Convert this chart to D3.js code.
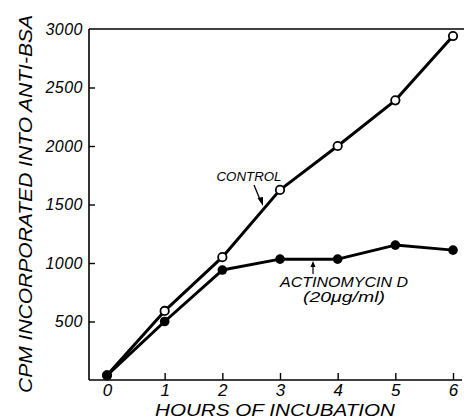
<!DOCTYPE html>
<html><head><meta charset="utf-8">
<script src="https://cdn.jsdelivr.net/npm/d3@7"></script>
<style>
body{margin:0;background:#fff;}
svg text{font-family:"Liberation Sans",Arial,sans-serif;font-style:italic;fill:#000;}
</style></head>
<body><svg id="c" width="464" height="420"></svg>
<script>
const hours = [0, 1, 2, 3, 4, 5, 6];
const control = [40, 590, 1050, 1625, 2000, 2390, 2940];
const actinomycin = [40, 500, 940, 1033, 1033, 1153, 1110];
const yTicks = [500, 1000, 1500, 2000, 2500, 3000];
const xTicks = [0, 1, 2, 3, 4, 5, 6];

const svg = d3.select("#c");
const padL = 89, padT = 29, padB = 380, padR = 464;
const x = d3.scaleLinear().domain([0, 6]).range([107, 453]);
const y = d3.scaleLinear().domain([0, 3000]).range([padB, padT]);

// frame lines
svg.append("line").attr("x1", padL).attr("x2", padL).attr("y1", padT).attr("y2", padB)
  .attr("stroke", "#000").attr("stroke-width", 1.6);
svg.append("line").attr("x1", padL).attr("x2", padR - 2).attr("y1", padB).attr("y2", padB)
  .attr("stroke", "#000").attr("stroke-width", 1.6);
svg.append("line").attr("x1", padL).attr("x2", padR).attr("y1", padT).attr("y2", padT)
  .attr("stroke", "#000").attr("stroke-width", 1.4);

// y axis
const ya = svg.append("g").attr("transform", `translate(${padL},0)`)
  .call(d3.axisLeft(y).tickValues(yTicks).tickSize(-6).tickPadding(12).tickFormat(d3.format("d")));
ya.select(".domain").remove();
ya.selectAll(".tick line").attr("stroke-width", 1.4).filter(d => d === 3000).remove();
ya.selectAll(".tick text").attr("font-size", 16).attr("x", -6).attr("letter-spacing", 0.5)
  .attr("font-family", "Liberation Sans").attr("font-style", "italic");

// x axis
const xa = svg.append("g").attr("transform", `translate(0,${padB})`)
  .call(d3.axisBottom(x).tickValues(xTicks).tickSize(-7).tickPadding(4).tickFormat(d3.format("d")));
xa.select(".domain").remove();
xa.selectAll(".tick line").attr("stroke-width", 1.4).filter(d => d === 0).remove();
xa.selectAll(".tick text").attr("font-size", 17).attr("dy", "0.9em").attr("y", 1)
  .attr("font-family", "Liberation Sans").attr("font-style", "italic");

// axis titles
svg.append("text").attr("x", 275).attr("y", 416).attr("text-anchor", "middle")
  .attr("font-size", 16).attr("textLength", 240).attr("lengthAdjust", "spacingAndGlyphs")
  .text("HOURS OF INCUBATION");
svg.append("text").attr("transform", "translate(32,204) rotate(-90)").attr("text-anchor", "middle")
  .attr("font-size", 18).attr("textLength", 378).attr("lengthAdjust", "spacingAndGlyphs")
  .text("CPM INCORPORATED INTO ANTI-BSA");

// lines
const line = d3.line().x((d, i) => x(hours[i])).y(d => y(d));
svg.append("path").datum(control).attr("d", line).attr("fill", "none")
  .attr("stroke", "#000").attr("stroke-width", 3).attr("stroke-linejoin", "round");
svg.append("path").datum(actinomycin).attr("d", line).attr("fill", "none")
  .attr("stroke", "#000").attr("stroke-width", 3).attr("stroke-linejoin", "round");

svg.selectAll("circle.ctrl").data(control).enter().append("circle").attr("class", "ctrl")
  .attr("cx", (d, i) => x(hours[i])).attr("cy", d => y(d)).attr("r", 4.2)
  .attr("fill", "#fff").attr("stroke", "#000").attr("stroke-width", 1.8);
svg.selectAll("circle.act").data(actinomycin).enter().append("circle").attr("class", "act")
  .attr("cx", (d, i) => x(hours[i])).attr("cy", d => y(d)).attr("r", 4.8)
  .attr("fill", "#000");

// annotations
svg.append("text").attr("x", 249).attr("y", 181).attr("text-anchor", "middle")
  .attr("font-size", 13).attr("textLength", 65).attr("lengthAdjust", "spacingAndGlyphs").text("CONTROL");
svg.append("line").attr("x1", 254).attr("y1", 185).attr("x2", 261).attr("y2", 202)
  .attr("stroke", "#000").attr("stroke-width", 1.3);
svg.append("path").attr("d", "M263,206 L257.5,198 L263,197 Z").attr("fill", "#000");

svg.append("text").attr("x", 344).attr("y", 287).attr("text-anchor", "middle")
  .attr("font-size", 14).attr("textLength", 128).attr("lengthAdjust", "spacingAndGlyphs").text("ACTINOMYCIN  D");
svg.append("text").attr("x", 344).attr("y", 302).attr("text-anchor", "middle")
  .attr("font-size", 14).attr("textLength", 82).attr("lengthAdjust", "spacingAndGlyphs").text("(20μg/ml)");
svg.append("line").attr("x1", 313).attr("y1", 274).attr("x2", 313).attr("y2", 264)
  .attr("stroke", "#000").attr("stroke-width", 1.2);
svg.append("path").attr("d", "M313,261 L310.5,267 L315.5,267 Z").attr("fill", "#000");
</script></body></html>
